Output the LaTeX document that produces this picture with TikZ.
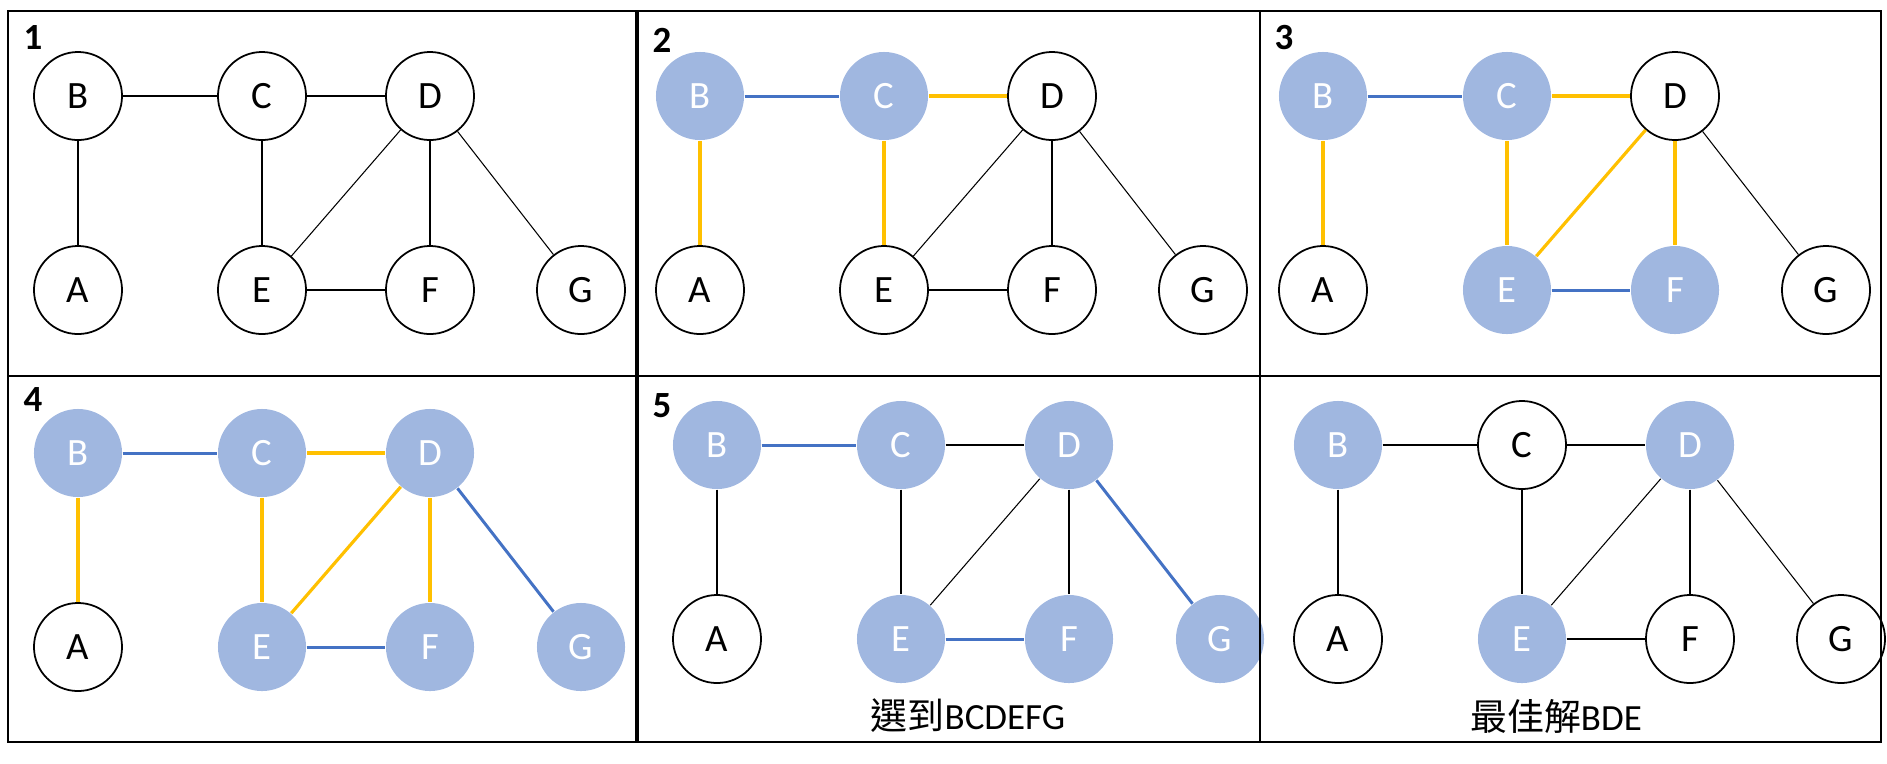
\documentclass[tikz,border=0pt]{standalone}
\usepackage{fontspec}
\setmainfont{Carlito}
\newfontfamily\cjk{Noto Sans CJK TC}
\definecolor{nodeblue}{HTML}{A0B7E0}
\definecolor{edgeblue}{HTML}{4472C4}
\definecolor{edgegold}{HTML}{FFC000}
\tikzset{
  vtx/.style = {circle, minimum size = 0.88cm, inner sep = 0pt, font = \fontsize{11}{12}\selectfont},
  hollow/.style = {vtx, draw = black, line width = 0.5pt, fill = white},
  filled/.style = {vtx, fill = nodeblue, text = white},
  ln/.style = {draw = black, line width = 0.3pt},
  bln/.style = {draw = edgeblue, line width = 0.85pt},
  yln/.style = {draw = edgegold, line width = 0.9pt},
  num/.style = {font = \bfseries\fontsize{10.5}{12}\selectfont, inner sep = 0pt},
  caption/.style = {font = \fontsize{10.5}{12}\selectfont, inner sep = 0pt},
  frame/.style = {draw = black, line width = 0.6pt},
  vA/.style = hollow, vB/.style = hollow, vC/.style = hollow, vD/.style = hollow,
  vE/.style = hollow, vF/.style = hollow, vG/.style = hollow,
  eBC/.style = ln, eCD/.style = ln, eBA/.style = ln, eCE/.style = ln,
  eDE/.style = ln, eDF/.style = ln, eDG/.style = ln, eEF/.style = ln
}
\newcommand{\Graph}[1]{%
  \node [vB] (B#1) at (0, 0) {B};
  \node [vC] (C#1) at (184, 0) {C};
  \node [vD] (D#1) at (352, 0) {D};
  \node [vA] (A#1) at (0, 194) {A};
  \node [vE] (E#1) at (184, 194) {E};
  \node [vF] (F#1) at (352, 194) {F};
  \node [vG] (G#1) at (503, 194) {G};
  \draw [eBC] (B#1) -- (C#1);
  \draw [eCD] (C#1) -- (D#1);
  \draw [eBA] (B#1) -- (A#1);
  \draw [eCE] (C#1) -- (E#1);
  \draw [eDE] (D#1) -- (E#1);
  \draw [eDF] (D#1) -- (F#1);
  \draw [eDG] (D#1) -- (G#1);
  \draw [eEF] (E#1) -- (F#1);
}

\begin{document}
\begin{tikzpicture}[x = 0.01cm, y = -0.01cm]
  \useasboundingbox (0, 0) rectangle (1887, 763);
  % step 1
  \begin{scope}[shift = {(78, 96)}]
    \Graph{1}
  \end{scope}
  % step 2
  \begin{scope}[shift = {(700, 96)}, vB/.style = filled, vC/.style = filled,
      eBC/.style = bln, eCD/.style = yln, eBA/.style = yln, eCE/.style = yln]
    \Graph{2}
  \end{scope}
  % step 3
  \begin{scope}[shift = {(1323, 96)}, vB/.style = filled, vC/.style = filled,
      vE/.style = filled, vF/.style = filled,
      eBC/.style = bln, eCD/.style = yln, eBA/.style = yln, eCE/.style = yln,
      eDE/.style = yln, eDF/.style = yln, eEF/.style = bln]
    \Graph{3}
  \end{scope}
  % step 4
  \begin{scope}[shift = {(78, 453)}, vB/.style = filled, vC/.style = filled,
      vD/.style = filled, vE/.style = filled, vF/.style = filled, vG/.style = filled,
      eBC/.style = bln, eCD/.style = yln, eBA/.style = yln, eCE/.style = yln,
      eDE/.style = yln, eDF/.style = yln, eDG/.style = bln, eEF/.style = bln]
    \Graph{4}
  \end{scope}
  % step 5
  \begin{scope}[shift = {(717, 445)}, vB/.style = filled, vC/.style = filled,
      vD/.style = filled, vE/.style = filled, vF/.style = filled, vG/.style = filled,
      eBC/.style = bln, eDG/.style = bln, eEF/.style = bln]
    \Graph{5}
  \end{scope}
  % best answer
  \begin{scope}[shift = {(1338, 445)}, vB/.style = filled, vD/.style = filled,
      vE/.style = filled]
    \Graph{6}
  \end{scope}
  \node [num] (N1) at (33, 38) {1};
  \node [num] (N2) at (662, 40) {2};
  \node [num] (N3) at (1284, 38) {3};
  \node [num] (N4) at (33, 400) {4};
  \node [num] (N5) at (662, 406) {5};
  \node [caption] (L5) at (968, 716) {{\cjk 選到}BCDEFG};
  \node [caption] (L6) at (1556, 716) {{\cjk 最佳解}BDE};
  % frames
  \draw [frame] (8, 11) rectangle (1881, 742);
  \draw [frame] (8, 376) -- (1881, 376);
  \draw [frame, line width = 1.1pt] (637, 11) -- (637, 742);
  \draw [frame, line width = 0.5pt] (1260, 11) -- (1260, 742);
\end{tikzpicture}
\end{document}
